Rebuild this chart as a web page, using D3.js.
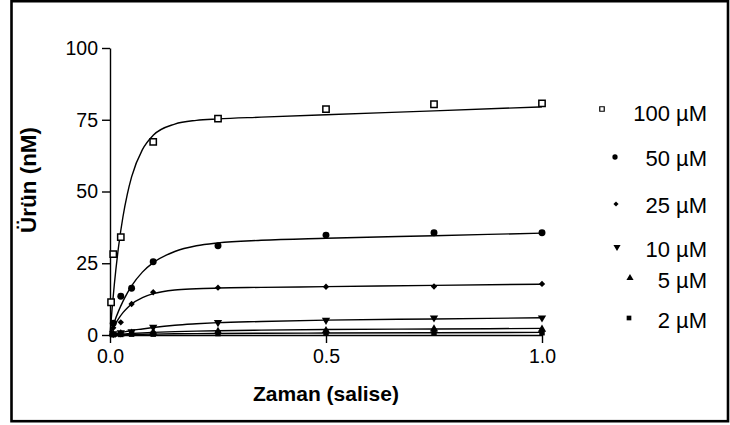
<!DOCTYPE html>
<html>
<head>
<meta charset="utf-8">
<script src="https://cdn.jsdelivr.net/npm/d3@7"></script>
<style>
  html, body { margin: 0; padding: 0; background: #fff; }
  svg { display: block; font-family: "Liberation Sans", Arial, Helvetica, sans-serif; }
</style>
</head>
<body>
<svg id="chart" width="730" height="425"></svg>
<script>
// ---- Data ----
const seriesLabels = ["100 \u00B5M", "50 \u00B5M", "25 \u00B5M", "10 \u00B5M", "5 \u00B5M", "2 \u00B5M"];

// measured points: time (s) and product (nM)
const times100 = [0.0025, 0.0075, 0.025, 0.1, 0.25, 0.5, 0.75, 1.0];
const values100 = [11.4, 28.2, 34.1, 67.3, 75.4, 78.7, 80.4, 80.7];
const times50 = [0.0075, 0.025, 0.05, 0.1, 0.25, 0.5, 0.75, 1.0];
const values50 = [4.1, 13.5, 16.3, 25.5, 31.1, 34.8, 35.6, 35.6];
const times25 = [0.0075, 0.025, 0.05, 0.1, 0.25, 0.5, 0.75, 1.0];
const values25 = [2.5, 4.4, 10.8, 14.9, 16.5, 16.8, 16.9, 17.8];
const times10 = [0.0075, 0.025, 0.05, 0.1, 0.25, 0.5, 0.75, 1.0];
const values10 = [0.5, 0.8, 1.2, 2.7, 4.4, 5.2, 6.0, 6.0];
const times5 = [0.0075, 0.025, 0.05, 0.1, 0.25, 0.5, 0.75, 1.0];
const values5 = [0.2, 0.4, 0.6, 0.9, 1.2, 1.5, 2.1, 2.0];
const times2 = [0.0075, 0.025, 0.05, 0.1, 0.25, 0.5, 0.75, 1.0];
const values2 = [0.1, 0.2, 0.3, 0.3, 0.5, 0.6, 0.7, 0.8];

// fitted curves at these times
const curveTimes = [0, 0.005, 0.01, 0.02, 0.03, 0.04, 0.05, 0.075, 0.1, 0.15, 0.2, 0.25, 0.35, 0.5, 0.75, 1.0];
const curve100 = [0, 9.4, 17.6, 31.0, 41.2, 49.0, 55.1, 64.6, 69.6, 73.5, 74.8, 75.3, 75.9, 76.75, 78.1, 79.5];
const curve50  = [0, 2.3, 4.5, 8.4, 11.7, 14.6, 17.1, 21.9, 25.2, 29.1, 31.1, 32.1, 33.0, 33.7, 34.6, 35.5];
const curve25  = [0, 1.7, 3.2, 5.7, 7.8, 9.4, 10.8, 13.0, 14.4, 15.7, 16.1, 16.4, 16.6, 16.85, 17.3, 17.7];
const curve10  = [0, 0.2, 0.4, 0.7, 1.0, 1.3, 1.6, 2.1, 2.6, 3.4, 3.9, 4.3, 4.7, 5.2, 5.6, 6.0];
const curve5   = [0, 0.06, 0.12, 0.23, 0.34, 0.44, 0.54, 0.74, 0.9, 1.17, 1.36, 1.5, 1.69, 1.9, 2.1, 2.3];
const curve2   = [0, 0.02, 0.04, 0.08, 0.11, 0.15, 0.19, 0.26, 0.32, 0.41, 0.48, 0.53, 0.61, 0.69, 0.8, 0.9];

const xTicks = [0, 0.5, 1.0];
const yTicks = [0, 25, 50, 75, 100];
const xTitle = "Zaman (salise)";
const yTitle = "\u00DCr\u00FCn (nM)";

// ---- Build ----
const svg = d3.select("#chart");

const series = [
  { label: seriesLabels[0], t: times100, v: values100, c: curve100, sym: d3.symbolSquare, size: 40, open: true,  rot: 0,   leg: [602, 109], legSize: 20 },
  { label: seriesLabels[1], t: times50,  v: values50,  c: curve50,  sym: d3.symbolCircle, size: 38, open: false, rot: 0,   leg: [615, 157], legSize: 22 },
  { label: seriesLabels[2], t: times25,  v: values25,  c: curve25,  sym: d3.symbolSquare, size: 20, open: false, rot: 45,  leg: [616, 204], legSize: 13 },
  { label: seriesLabels[3], t: times10,  v: values10,  c: curve10,  sym: d3.symbolTriangle, size: 30, open: false, rot: 180, leg: [617, 247], legSize: 22 },
  { label: seriesLabels[4], t: times5,   v: values5,   c: curve5,   sym: d3.symbolTriangle, size: 30, open: false, rot: 0,   leg: [630, 278], legSize: 22 },
  { label: seriesLabels[5], t: times2,   v: values2,   c: curve2,   sym: d3.symbolSquare, size: 30, open: false, rot: 0,   leg: [629, 318], legSize: 22 }
];
const legendBaselines = [121, 166, 213, 257, 288, 328];

const x = d3.scaleLinear().domain([0, 1]).range([110, 542]);
const y = d3.scaleLinear().domain([0, 100]).range([335, 48]);

// frame
svg.append("rect")
  .attr("x", 11.5).attr("y", 1.2).attr("width", 716.5).attr("height", 420)
  .attr("fill", "none").attr("stroke", "#000").attr("stroke-width", 2.6);

// axes
const yAxis = d3.axisLeft(y).tickValues(yTicks).tickSize(8).tickSizeOuter(0).tickPadding(4)
  .tickFormat(d3.format("d"));
const xAxis = d3.axisBottom(x).tickValues(xTicks).tickSize(8).tickSizeOuter(0).tickPadding(6)
  .tickFormat(d3.format(".1f"));

const gy = svg.append("g").attr("transform", `translate(${x(0)},0)`).call(yAxis);
const gx = svg.append("g").attr("transform", `translate(0,${y(0)})`).call(xAxis);
[gx, gy].forEach(g => {
  g.selectAll("path.domain").attr("stroke", "#000").attr("stroke-width", 1.4);
  g.selectAll(".tick line").attr("stroke", "#000").attr("stroke-width", 1.4);
  g.selectAll(".tick text").attr("fill", "#000")
    .style("font-size", "19.5px").style("font-family", "'Liberation Sans', Arial, sans-serif");
});

// titles
svg.append("text")
  .attr("x", 326).attr("y", 401).attr("text-anchor", "middle")
  .style("font-size", "21px").style("font-weight", "bold").attr("fill", "#000")
  .text(xTitle);
svg.append("text")
  .attr("transform", "translate(36,180) rotate(-90)").attr("text-anchor", "middle")
  .style("font-size", "22.5px").style("font-weight", "bold").attr("fill", "#000")
  .text(yTitle);

// curves
const line = d3.line().x(d => x(d[0])).y(d => y(d[1])).curve(d3.curveMonotoneX);
series.slice().reverse().forEach(s => {
  svg.append("path")
    .datum(curveTimes.map((t, i) => [t, s.c[i]]))
    .attr("d", line)
    .attr("fill", "none").attr("stroke", "#000").attr("stroke-width", 1.4);
});

// markers
series.slice().reverse().forEach(s => {
  const sym = d3.symbol().type(s.sym).size(s.size);
  svg.append("g").selectAll("path")
    .data(s.t.map((t, i) => [t, s.v[i]]))
    .join("path")
    .attr("d", sym)
    .attr("transform", d => `translate(${x(d[0])},${y(d[1])}) rotate(${s.rot})`)
    .attr("fill", s.open ? "#fff" : "#000")
    .attr("stroke", "#000").attr("stroke-width", s.open ? 1.5 : 0);
});

// legend
series.forEach((s, i) => {
  const sym = d3.symbol().type(s.sym).size(s.legSize);
  svg.append("path")
    .attr("d", sym)
    .attr("transform", `translate(${s.leg[0]},${s.leg[1]}) rotate(${s.rot})`)
    .attr("fill", s.open ? "#fff" : "#000")
    .attr("stroke", "#000").attr("stroke-width", s.open ? 1.2 : 0);
  svg.append("text")
    .attr("x", 707).attr("y", legendBaselines[i]).attr("text-anchor", "end")
    .style("font-size", "22px").attr("fill", "#000")
    .text(s.label);
});
</script>
</body>
</html>
